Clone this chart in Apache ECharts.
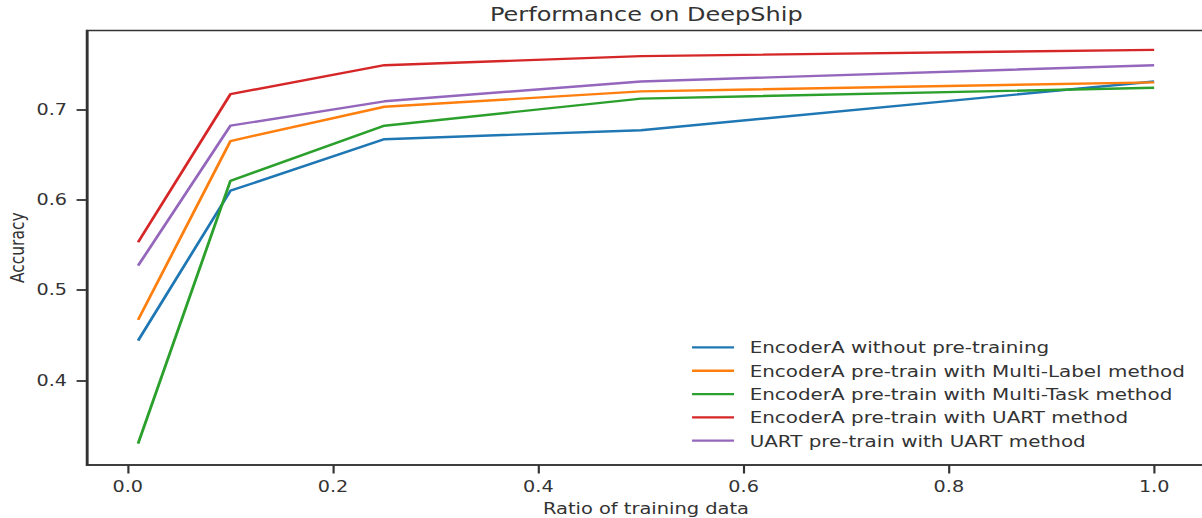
<!DOCTYPE html>
<html>
<head>
<meta charset="utf-8">
<script src="https://cdn.jsdelivr.net/npm/echarts@6/dist/echarts.min.js"></script>
<style>
  html, body { margin: 0; padding: 0; background: #fff; overflow: hidden; }
  #wrap { width: 1202px; height: 518px; overflow: hidden; position: relative; }
  #chart { width: 1002px; height: 518px; transform: scaleX(1.2); transform-origin: 0 0; }
</style>
</head>
<body>
<div id="wrap"><div id="chart"></div></div>
<script>
// Data
const ratios = [0.01, 0.1, 0.25, 0.5, 1.0];
const seriesNames = [
  'EncoderA without pre-training',
  'EncoderA pre-train with Multi-Label method',
  'EncoderA pre-train with Multi-Task method',
  'EncoderA pre-train with UART method',
  'UART pre-train with UART method'
];
const noPretrain  = [0.444, 0.610, 0.667, 0.677, 0.731];
const multiLabel  = [0.467, 0.665, 0.703, 0.720, 0.730];
const multiTask   = [0.330, 0.621, 0.682, 0.712, 0.724];
const encoderUart = [0.553, 0.717, 0.749, 0.759, 0.766];
const uartUart    = [0.527, 0.682, 0.709, 0.731, 0.749];
const xTicks = [0.0, 0.2, 0.4, 0.6, 0.8, 1.0];
const yTicks = [0.4, 0.5, 0.6, 0.7];

const colors = ['#1f77b4', '#ff7f0e', '#2ca02c', '#d62728', '#9467bd'];
const allValues = [noPretrain, multiLabel, multiTask, encoderUart, uartUart];

const FONT = 'DejaVu Sans';
const TXT = '#333333';

const chart = echarts.init(document.getElementById('chart'), null, { renderer: 'svg', width: 1002, height: 518 });

const series = allValues.map((vals, i) => ({
  name: seriesNames[i],
  type: 'line',
  data: ratios.map((r, j) => [r, vals[j]]),
  symbol: 'none',
  showSymbol: false,
  lineStyle: { color: colors[i], width: 2.4 },
  itemStyle: { color: colors[i] },
  emphasis: { disabled: true },
  animation: false
}));

const axisLineStyle = { color: '#333333', width: 1.7 };
const tickStyle = { color: '#333333', width: 1.8 };

chart.setOption({
  animation: false,
  backgroundColor: '#ffffff',
  title: {
    text: 'Performance on DeepShip',
    left: 403.3,
    top: -1,
    textStyle: { fontFamily: FONT, fontSize: 20, fontWeight: 'normal', color: TXT }
  },
  grid: {
    left: 72.3, top: 30.5, width: 932, height: 434.5,
    show: true, borderColor: '#333333', borderWidth: 1.7, backgroundColor: 'transparent',
    outerBoundsMode: 'none'
  },
  legend: {
    orient: 'vertical',
    left: 571.7,
    top: 330.8,
    itemWidth: 35,
    itemHeight: 14,
    itemGap: 0,
    icon: 'path://M0,5.85 L35,5.85 L35,8.15 L0,8.15 Z',
    textStyle: { fontFamily: FONT, fontSize: 16.6, color: TXT, lineHeight: 23.3, padding: [0, 0, 0, 8] },
    data: seriesNames.map((n, i) => ({ name: n, itemStyle: { color: colors[i] } }))
  },
  xAxis: {
    type: 'value',
    position: 'bottom',
    min: -0.04,
    max: 1.0497,
    name: 'Ratio of training data',
    nameLocation: 'middle',
    nameGap: 34,
    nameTextStyle: { fontFamily: FONT, fontSize: 16.2, color: TXT },
    axisLine: { show: true, onZero: false, lineStyle: axisLineStyle },
    axisTick: { show: true, inside: false, length: 8.5, customValues: xTicks, lineStyle: tickStyle },
    axisLabel: {
      show: true, margin: 14, customValues: xTicks,
      fontFamily: FONT, fontSize: 16, color: TXT,
      formatter: v => Number(v).toFixed(1)
    },
    splitLine: { show: false }
  },
  yAxis: {
    type: 'value',
    position: 'left',
    min: 0.3063,
    max: 0.7874,
    name: 'Accuracy',
    nameLocation: 'middle',
    nameGap: 50,
    nameMoveOverlap: false,
    nameRotate: 90,
    nameTextStyle: { fontFamily: FONT, fontSize: 15.5, color: TXT },
    axisLine: { show: true, onZero: false, lineStyle: axisLineStyle },
    axisTick: { show: true, inside: false, length: 8.5, customValues: yTicks, lineStyle: tickStyle },
    axisLabel: {
      show: true, margin: 16.5, customValues: yTicks,
      fontFamily: FONT, fontSize: 16, color: TXT,
      formatter: v => Number(v).toFixed(1)
    },
    splitLine: { show: false }
  },
  series: series
});
</script>
</body>
</html>
